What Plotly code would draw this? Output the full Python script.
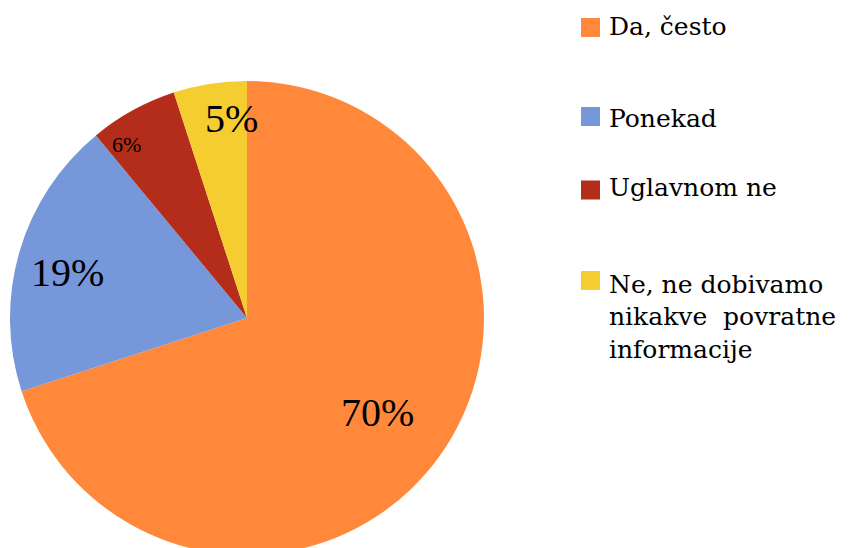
import math
import plotly.graph_objects as go

# ---- data ----
labels = ["Da, često", "Ponekad", "Uglavnom ne", "Ne, ne dobivamo<br>nikakve\u00a0 povratne<br>informacije"]
values = [70, 19, 6, 5]
colors = ["#FF883A", "#7697D9", "#B42D1A", "#F5CD30"]

# ---- layout constants (pixels, figure coords; page body adds an 8px offset) ----
W, H = 859, 548
OFF = 8
CX, CY, R = 247 - OFF, 318 - OFF, 237
label_sizes = [40, 40, 22, 40]
label_rfrac = [0.68, 0.78, 0.89, 0.846]
label_dang = [0, -2, -6, 4.7]   # small angular nudges (degrees)

fig = go.Figure(go.Pie(
    labels=[l.replace("<br>", " ").replace("\u00a0", "") for l in labels],
    values=values,
    marker=dict(colors=colors, line=dict(width=0)),
    sort=False,
    direction="clockwise",
    rotation=0,
    textinfo="none",
    hoverinfo="label+percent",
    showlegend=False,
    domain=dict(x=[(CX - R) / W, (CX + R) / W],
                y=[(H - CY - R) / H, (H - CY + R) / H]),
))

annotations = []
total = sum(values)
cum = 0
for v, fs, rf, da in zip(values, label_sizes, label_rfrac, label_dang):
    mid = (cum + v / 2) / total * 2 * math.pi + math.radians(da)
    cum += v
    px = CX + R * rf * math.sin(mid)
    py = CY - R * rf * math.cos(mid)
    annotations.append(dict(
        x=px / W, y=1 - py / H, xref="paper", yref="paper",
        text=f"{round(v / total * 100)}%", showarrow=False,
        xanchor="center", yanchor="middle",
        font=dict(family="Liberation Serif", size=fs, color="#000000"),
    ))

# ---- custom legend ----
square_centers = [27.5, 116.5, 190, 280.5]
text_centers = [26, 118, 188, 284]
shapes = []
for lab, col, sc, tc in zip(labels, colors, square_centers, text_centers):
    sc -= OFF
    tc -= OFF
    shapes.append(dict(type="rect", xref="paper", yref="paper",
                       x0=(581 - OFF) / W, x1=(600 - OFF) / W,
                       y0=1 - (sc + 9.5) / H, y1=1 - (sc - 9.5) / H,
                       fillcolor=col, line=dict(width=0)))
    for i, line in enumerate(lab.split("<br>")):
        ly = tc + i * 32.5
        annotations.append(dict(
            x=(609 - OFF - 2) / W, y=1 - ly / H, xref="paper", yref="paper",
            text=line, showarrow=False, xanchor="left", yanchor="middle",
            font=dict(family="DejaVu Serif", size=25, color="#000000"),
        ))

fig.update_layout(
    width=W, height=H,
    margin=dict(l=0, r=0, t=0, b=0),
    paper_bgcolor="white", plot_bgcolor="white",
    annotations=annotations, shapes=shapes,
)

fig.write_html("out.html")
